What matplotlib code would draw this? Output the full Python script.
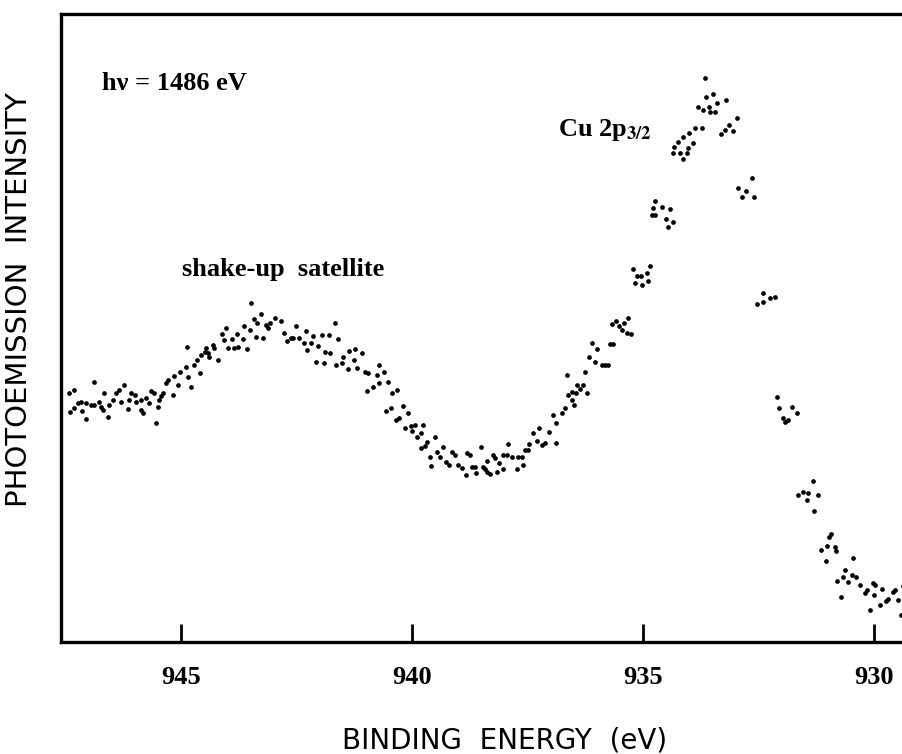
import matplotlib.pyplot as plt

# Cu 2p3/2 XPS spectrum (intensity in arbitrary units)
energy = [
    947.42, 947.31, 947.40, 947.31, 947.23, 947.16, 947.14, 947.05, 947.05, 946.94,
    946.88, 946.88, 946.77, 946.73, 946.69, 946.66, 946.58, 946.56, 946.47, 946.40,
    946.34, 946.30, 946.23, 946.15, 946.12, 946.08, 945.99, 945.97, 945.86, 945.86,
    945.82, 945.76, 945.69, 945.65, 945.58, 945.54, 945.50, 945.48, 945.43, 945.39,
    945.32, 945.28, 945.17, 945.15, 945.06, 945.02, 944.89, 944.87, 944.85, 944.78,
    944.72, 944.65, 944.59, 944.57, 944.48, 944.46, 944.42, 944.39, 944.31, 944.29,
    944.20, 944.11, 944.07, 944.03, 943.98, 943.90, 943.85, 943.79, 943.75, 943.66,
    943.64, 943.57, 943.51, 943.47, 943.42, 943.38, 943.34, 943.27, 943.23, 943.16,
    943.12, 943.06, 942.95, 942.84, 942.77, 942.69, 942.62, 942.58, 942.51, 942.45,
    942.34, 942.28, 942.26, 942.19, 942.13, 942.08, 942.04, 941.95, 941.91, 941.87,
    941.80, 941.76, 941.67, 941.65, 941.59, 941.50, 941.48, 941.39, 941.35, 941.26,
    941.22, 941.18, 941.07, 941.02, 940.94, 940.96, 940.85, 940.76, 940.70, 940.72,
    940.61, 940.51, 940.42, 940.31, 940.55, 940.46, 940.35, 940.27, 940.20, 940.09,
    940.14, 940.01, 939.99, 939.92, 939.88, 939.81, 939.75, 939.81, 939.71, 939.66,
    939.60, 939.58, 939.49, 939.45, 939.40, 939.32, 939.25, 939.19, 939.12, 939.06,
    938.99, 938.91, 938.82, 938.80, 938.73, 938.69, 938.63, 938.60, 938.50, 938.45,
    938.41, 938.37, 938.37, 938.30, 938.24, 938.19, 938.15, 938.11, 938.02, 938.02,
    937.93, 937.91, 937.83, 937.72, 937.70, 937.61, 937.59, 937.54, 937.48, 937.46,
    937.37, 937.29, 937.24, 937.18, 937.11, 937.03, 936.94, 936.87, 936.87, 936.74,
    936.68, 936.64, 936.62, 936.53, 936.53, 936.49, 936.44, 936.42, 936.36, 936.29,
    936.25, 936.20, 936.16, 936.10, 936.03, 935.99, 935.88, 935.82, 935.75, 935.71,
    935.64, 935.66, 935.58, 935.51, 935.45, 935.41, 935.32, 935.34, 935.25, 935.21,
    935.12, 935.04, 935.17, 935.02, 934.91, 934.84, 934.89, 934.74, 934.78, 934.58,
    934.41, 934.80, 934.74, 934.50, 934.35, 934.45, 934.35, 934.32, 934.24, 934.13,
    934.00, 933.87, 933.72, 934.19, 934.13, 934.04, 934.02, 933.91, 933.65, 933.63,
    933.48, 933.81, 933.70, 933.57, 933.40, 933.20, 933.55, 933.44, 933.31, 933.22,
    933.14, 932.96, 933.05, 932.64, 932.94, 932.77, 932.86, 932.60, 932.40, 932.53,
    932.40, 932.25, 932.14, 932.10, 932.06, 931.77, 931.93, 931.86, 931.67, 931.97,
    931.32, 931.65, 931.54, 931.43, 931.45, 931.21, 931.30, 930.93, 930.98, 931.02,
    931.15, 930.85, 930.82, 931.04, 930.46, 930.63, 930.80, 930.67, 930.56, 930.48,
    930.39, 930.31, 930.72, 930.20, 930.15, 930.02, 929.98, 930.00, 929.83, 929.87,
    929.74, 929.70, 929.59, 929.55, 930.09, 929.48, 929.42, 929.37,
]
intensity = [
    249, 252, 230, 234, 239, 240, 231, 223, 239, 237,
    260, 237, 240, 235, 232, 249, 225, 237, 242, 249,
    252, 240, 257, 233, 242, 249, 247, 240, 242, 232,
    229, 244, 239, 251, 249, 219, 235, 242, 246, 249,
    259, 262, 247, 266, 257, 270, 275, 295, 265, 255,
    277, 282, 269, 287, 290, 294, 289, 285, 297, 294,
    282, 308, 302, 314, 294, 303, 294, 308, 295, 303,
    316, 293, 312, 339, 323, 305, 319, 328, 304, 317,
    314, 319, 324, 321, 309, 301, 304, 304, 316, 304,
    299, 311, 292, 299, 306, 280, 296, 307, 279, 290,
    307, 289, 319, 277, 303, 279, 285, 273, 291, 282,
    293, 274, 289, 270, 269, 251, 255, 267, 277, 259,
    270, 260, 249, 252, 231, 234, 222, 224, 236, 229,
    214, 216, 211, 217, 205, 209, 217, 194, 196, 200,
    185, 176, 205, 190, 185, 195, 180, 177, 190, 187,
    177, 174, 167, 189, 187, 175, 175, 169, 195, 175,
    173, 181, 170, 168, 187, 184, 170, 179, 173, 187,
    187, 198, 185, 173, 185, 185, 177, 192, 192, 198,
    209, 201, 214, 197, 199, 210, 227, 199, 219, 229,
    234, 267, 247, 250, 242, 237, 249, 257, 253, 257,
    270, 249, 285, 299, 280, 293, 277, 277, 277, 298,
    298, 318, 321, 316, 312, 319, 324, 309, 308, 373,
    366, 366, 359, 357, 369, 376, 361, 441, 434, 435,
    433, 427, 427, 423, 420, 415, 489, 495, 500, 505,
    509, 514, 514, 489, 483, 489, 494, 499, 564, 545,
    548, 535, 532, 535, 539, 542, 530, 530, 508, 512,
    517, 524, 511, 464, 454, 451, 445, 445, 349, 338,
    340, 344, 345, 245, 234, 235, 220, 222, 229, 224,
    161, 147, 150, 149, 142, 147, 131, 108, 105, 96,
    92, 95, 91, 81, 84, 72, 61, 65, 60, 67,
    65, 57, 45, 49, 52, 59, 57, 47, 53, 37,
    41, 43, 50, 52, 32, 42, 27, 56,
]
xticks = [945, 940, 935, 930]

plt.rcParams['mathtext.fontset'] = 'stix'
serif = 'Liberation Serif'

fig = plt.figure(figsize=(9.03, 7.54), dpi=100)
ax = fig.add_axes([0.0676, 0.1485, 0.9324, 0.833])

ax.plot(energy, intensity, 'o', color='black', markersize=3.4, markeredgewidth=0)

ax.set_xlim(947.59, 929.37)
ax.set_ylim(0, 628)
ax.set_xticks(xticks)
ax.set_xticklabels([str(t) for t in xticks], fontfamily=serif, fontsize=19,
                   fontweight='bold')
ax.set_yticks([])
ax.tick_params(axis='x', direction='in', length=13, width=2, pad=17)

for side in ['left', 'bottom', 'top']:
    ax.spines[side].set_linewidth(2.4)
ax.spines['right'].set_visible(False)

ax.set_xlabel('BINDING  ENERGY  (eV)', fontsize=20)
ax.xaxis.set_label_coords(0.527, -0.135)
ax.set_ylabel('PHOTOEMISSION  INTENSITY', fontsize=21)
ax.yaxis.set_label_coords(-0.033, 0.545)

ax.text(946.71, 558, 'h\u03bd = 1486 eV', fontfamily=serif, fontsize=19,
        fontweight='bold', ha='left', va='center')
ax.text(944.98, 372, 'shake-up  satellite', fontfamily=serif, fontsize=19,
        fontweight='bold', ha='left', va='center')
ax.text(936.83, 512, 'Cu 2p$_{\\mathbf{3/2}}$', fontfamily=serif, fontsize=19,
        fontweight='bold', ha='left', va='center')

plt.savefig('out.png', dpi=100)
